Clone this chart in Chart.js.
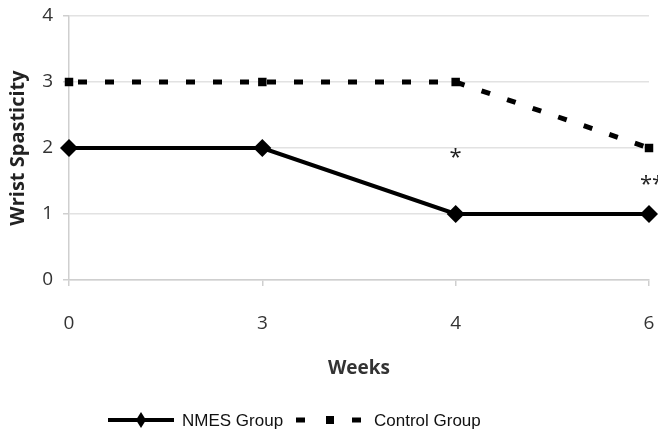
<!DOCTYPE html>
<html>
<head>
<meta charset="utf-8">
<script src="https://cdn.jsdelivr.net/npm/chart.js@4.4.1/dist/chart.umd.min.js"></script>
<style>
  html, body { margin:0; padding:0; background:#fff; }
  #wrap { width:658px; height:434px; position:relative; }
</style>
</head>
<body>
<div id="wrap"><canvas id="chart"></canvas></div>
<script>
// ─── Data ──────────────────────────────────────────────────────────────────────
const weeks        = ["0", "3", "4", "6"];
const nmesGroup    = [2, 2, 1, 1];
const controlGroup = [3, 3, 3, 2];
const yTicks       = [0, 1, 2, 3, 4];

// significance marks: label, week, height
const markText = ["*", "**"];
const markWeek = ["4", "6"];
const markY    = [1.92, 1.5];

const FONT = "'Open Sans', 'DejaVu Sans', sans-serif";

// asterisks + legend drawn on top
const extras = {
  id: "extras",
  afterDraw(chart) {
    const { ctx, scales: { x, y } } = chart;
    ctx.save();
    ctx.fillStyle = "#222";
    ctx.font = "22px " + FONT;
    ctx.textAlign = "center";
    ctx.textBaseline = "middle";
    markText.forEach((t, i) => {
      const px = x.getPixelForValue(weeks.indexOf(markWeek[i]));
      const off = t.length > 1 ? 3 : 0;
      ctx.fillText(t, px + off, y.getPixelForValue(markY[i]) + 4);
    });

    // legend
    const ly = 420;
    const ds = chart.data.datasets;
    ctx.font = "17px 'Liberation Sans', Arial, sans-serif";
    ctx.textAlign = "left";

    // NMES entry
    ctx.strokeStyle = "#000";
    ctx.lineWidth = 4;
    ctx.setLineDash([]);
    ctx.beginPath(); ctx.moveTo(108, ly); ctx.lineTo(174, ly); ctx.stroke();
    ctx.beginPath();
    ctx.moveTo(141, ly - 8); ctx.lineTo(146, ly); ctx.lineTo(141, ly + 8); ctx.lineTo(136, ly);
    ctx.closePath(); ctx.fillStyle = "#000"; ctx.fill();
    ctx.fillStyle = "#111";
    ctx.fillText(ds[0].label, 182, ly + 1);

    // Control entry
    ctx.fillStyle = "#000";
    ctx.fillRect(296, ly - 2.5, 9, 5);
    ctx.fillRect(326, ly - 4, 8, 8);
    ctx.fillRect(352, ly - 2.5, 9, 5);
    ctx.fillStyle = "#111";
    ctx.fillText(ds[1].label, 374, ly + 1);
    ctx.restore();
  }
};

new Chart(document.getElementById("chart"), {
  type: "line",
  data: {
    labels: weeks,
    datasets: [
      {
        label: "NMES Group",
        data: nmesGroup,
        borderColor: "#000",
        backgroundColor: "#000",
        borderWidth: 4,
        pointStyle: "rectRot",
        pointRadius: 9,
        pointBorderWidth: 0,
        tension: 0,
        fill: false
      },
      {
        label: "Control Group",
        data: controlGroup,
        borderColor: "#000",
        backgroundColor: "#000",
        borderWidth: 5,
        borderDash: [9, 18],
        borderDashOffset: -9,
        pointStyle: "rect",
        pointRadius: 6,
        pointBorderWidth: 0,
        tension: 0,
        fill: false
      }
    ]
  },
  options: {
    responsive: true,
    maintainAspectRatio: false,
    animation: false,
    layout: { padding: { top: 16, right: 8, left: 0, bottom: 0 } },
    plugins: { legend: { display: false }, tooltip: { enabled: false } },
    scales: {
      x: {
        afterFit: s => { s.height = 154; s.paddingLeft = 0; s.paddingRight = 0; },
        grid: { drawOnChartArea: false, drawTicks: true, tickLength: 6, color: "#cfcfcf", lineWidth: 1.5 },
        border: { color: "#cfcfcf", width: 1.5 },
        ticks: { color: "#333", font: { family: FONT, size: 19 }, padding: 26 },
        title: {
          display: true, text: "Weeks", color: "#333",
          font: { family: FONT, size: 19, weight: "bold" },
          padding: { top: 0, bottom: 54 }
        }
      },
      y: {
        min: 0, max: 4,
        afterFit: s => { s.width = 69; s.paddingTop = 0; s.paddingBottom = 0; },
        afterBuildTicks: s => { s.ticks = yTicks.map(v => ({ value: v })); },
        grid: { color: "#e2e2e2", lineWidth: 1.5, tickLength: 6, tickColor: "#cfcfcf" },
        border: { color: "#cfcfcf", width: 1.5 },
        ticks: { color: "#333", font: { family: FONT, size: 19 }, padding: 10 },
        title: {
          display: true, text: "Wrist Spasticity", color: "#222",
          font: { family: FONT, size: 20, weight: "bold" },
          padding: { top: 6, bottom: 0 }
        }
      }
    }
  },
  plugins: [extras]
});
</script>
</body>
</html>
